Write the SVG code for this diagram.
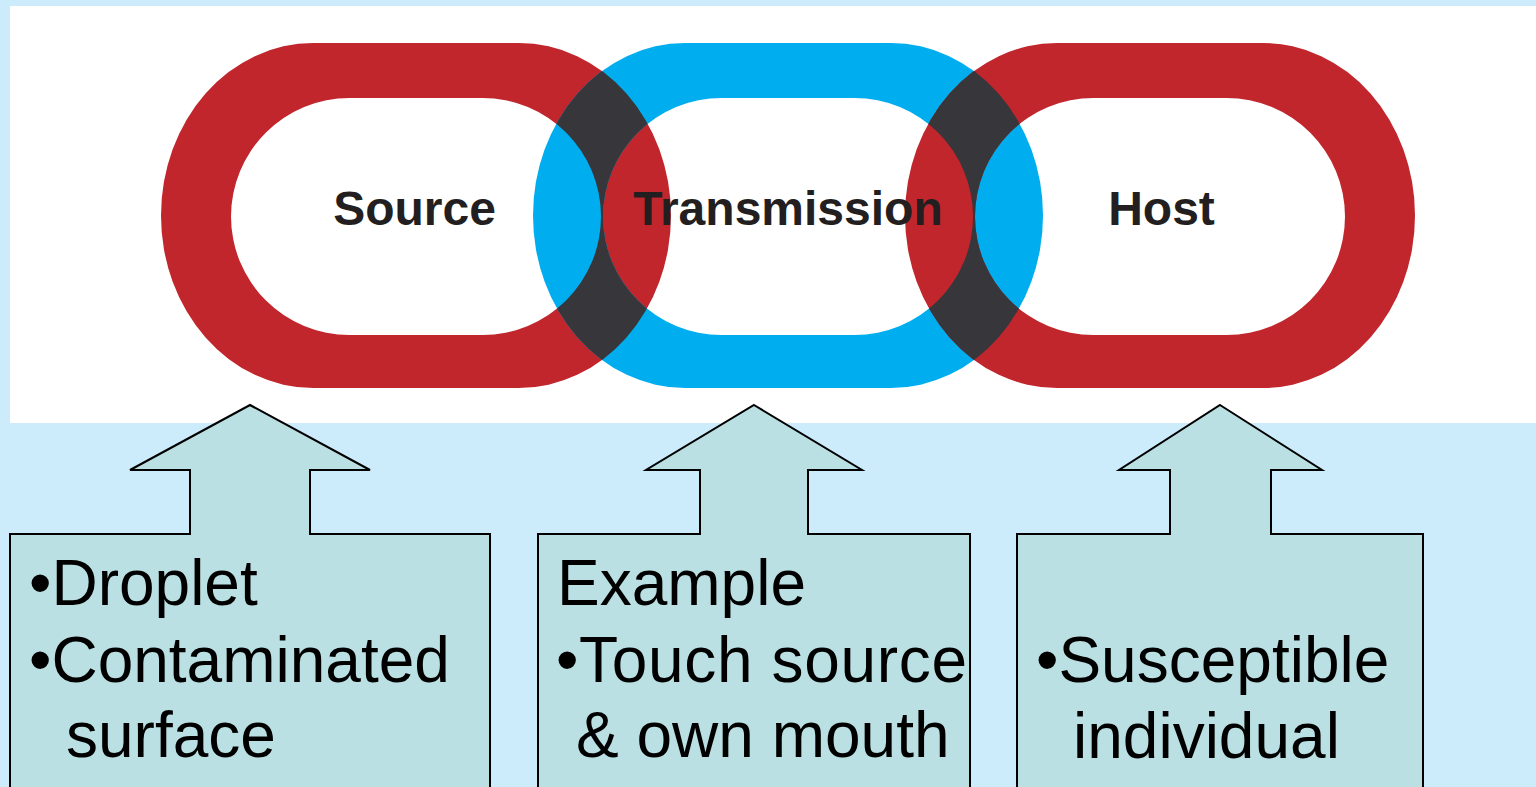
<svg xmlns="http://www.w3.org/2000/svg" width="1536" height="787" viewBox="0 0 1536 787">
  <defs>
    <style>
      .red { fill: #C1262D; fill-rule: evenodd; }
      .blue { fill: #00AEEF; fill-rule: evenodd; }
      .dark { fill: #37363B; fill-rule: evenodd; }
      .label { font-family: "Liberation Sans", Arial, sans-serif; font-weight: bold; font-size: 48px; fill: #231F20; text-anchor: middle; }
      .callout { fill: #BAE0E3; stroke: #000; stroke-width: 2; stroke-linejoin: miter; }
      .ctext { font-family: "Liberation Sans", Arial, sans-serif; font-size: 64px; fill: #000; }
    </style>
    <path id="ring1" d="M313,43 H519 A152,172.5 0 0 1 519,388 H313 A152,172.5 0 0 1 313,43 Z M349.5,98 H482.5 A118.5,118.5 0 0 1 482.5,335 H349.5 A118.5,118.5 0 0 1 349.5,98 Z"/>
    <path id="ring2" d="M685,43 H891 A152,172.5 0 0 1 891,388 H685 A152,172.5 0 0 1 685,43 Z M721.5,98 H854.5 A118.5,118.5 0 0 1 854.5,335 H721.5 A118.5,118.5 0 0 1 721.5,98 Z"/>
    <path id="ring3" d="M1057,43 H1263 A152,172.5 0 0 1 1263,388 H1057 A152,172.5 0 0 1 1057,43 Z M1093.5,98 H1226.5 A118.5,118.5 0 0 1 1226.5,335 H1093.5 A118.5,118.5 0 0 1 1093.5,98 Z"/>
    <clipPath id="clip1">
      <path clip-rule="evenodd" d="M313,43 H519 A152,172.5 0 0 1 519,388 H313 A152,172.5 0 0 1 313,43 Z M349.5,98 H482.5 A118.5,118.5 0 0 1 482.5,335 H349.5 A118.5,118.5 0 0 1 349.5,98 Z"/>
    </clipPath>
    <clipPath id="clip3">
      <path clip-rule="evenodd" d="M1057,43 H1263 A152,172.5 0 0 1 1263,388 H1057 A152,172.5 0 0 1 1057,43 Z M1093.5,98 H1226.5 A118.5,118.5 0 0 1 1226.5,335 H1093.5 A118.5,118.5 0 0 1 1093.5,98 Z"/>
    </clipPath>
  </defs>

  <rect x="0" y="0" width="1536" height="787" fill="#CCECFC"/>
  <rect x="10" y="6" width="1526" height="417" fill="#FFFFFF"/>

  <g id="ring-source">
    <use href="#ring1" class="red"/>
  </g>
  <g id="ring-transmission">
    <use href="#ring2" class="blue"/>
  </g>
  <g id="ring-host">
    <use href="#ring3" class="red"/>
  </g>
  <g id="ring-overlaps">
    <use href="#ring2" class="dark" clip-path="url(#clip1)"/>
    <use href="#ring2" class="dark" clip-path="url(#clip3)"/>
  </g>
  <g id="ring-labels">
    <text class="label" x="414.5" y="225">Source</text>
    <text class="label" x="788" y="225">Transmission</text>
    <text class="label" x="1161.5" y="225">Host</text>
  </g>

  <g id="callout-source">
    <polygon class="callout" points="250,405 370,470 310,470 310,534 490,534 490,790 10,790 10,534 190,534 190,470 130,470"/>
    <text class="ctext" x="29" y="605">•Droplet</text>
    <text class="ctext" x="29" y="682">•Contaminated</text>
    <text class="ctext" x="66" y="757">surface</text>
  </g>

  <g id="callout-transmission">
    <polygon class="callout" points="754,405 862,470 808,470 808,534 970,534 970,790 538,790 538,534 700,534 700,470 646,470"/>
    <text class="ctext" x="557" y="605">Example</text>
    <text class="ctext" x="556" y="682" textLength="411" lengthAdjust="spacing">•Touch source</text>
    <text class="ctext" x="576" y="757">&amp; own mouth</text>
  </g>

  <g id="callout-host">
    <polygon class="callout" points="1220,405 1322,470 1271,470 1271,534 1423,534 1423,790 1017,790 1017,534 1170,534 1170,470 1119,470"/>
    <text class="ctext" x="1036" y="682">•Susceptible</text>
    <text class="ctext" x="1073" y="758">individual</text>
  </g>

  <g id="connectors"/>
</svg>
